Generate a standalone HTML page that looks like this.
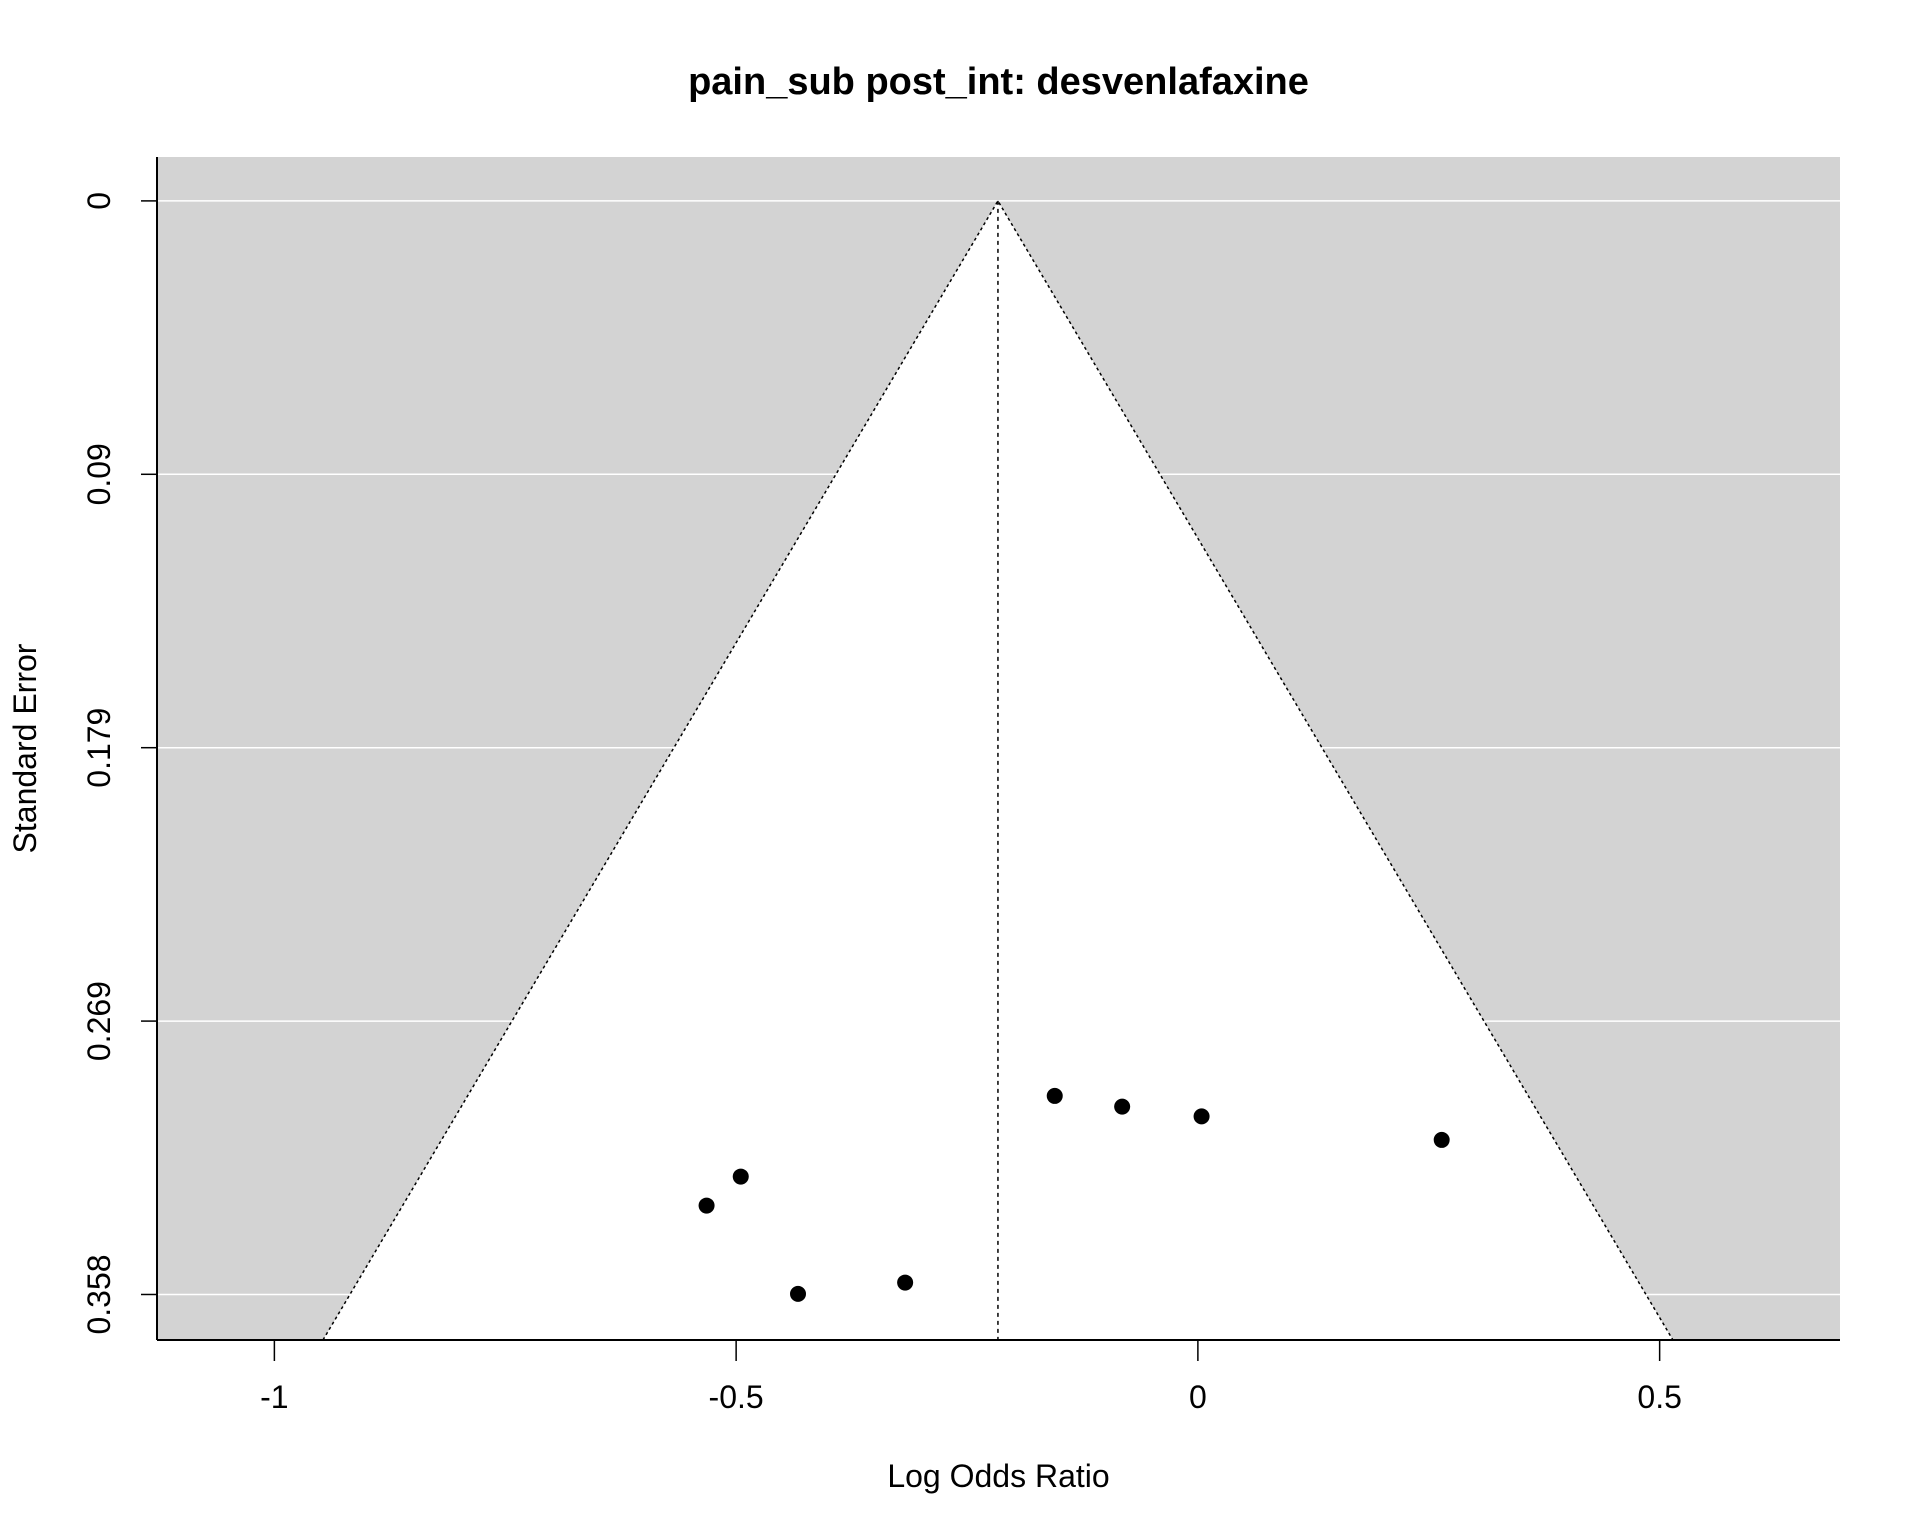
<!DOCTYPE html>
<html><head><meta charset="utf-8"><style>
html,body{margin:0;padding:0;background:#fff;}
svg{display:block;font-family:"Liberation Sans",Arial,sans-serif;}
</style></head><body>
<svg id="chart" width="1920" height="1536" xmlns="http://www.w3.org/2000/svg"></svg>
<script>
const studyLogOR = [-0.155, -0.082, 0.004, 0.264, -0.495, -0.532, -0.433, -0.317];
const studySE = [0.293, 0.2965, 0.2997, 0.3074, 0.3194, 0.3289, 0.3578, 0.3541];
const pooledEstimate = -0.2165;
const xTicks = [-1, -0.5, 0, 0.5];
const xTickLabels = ["-1", "-0.5", "0", "0.5"];
const yTicks = [0, 0.0895, 0.179, 0.2685, 0.358];
const yTickLabels = ["0", "0.09", "0.179", "0.269", "0.358"];

const L=157,R=1840,T=157,B=1340;
const xMin=-1.1271,xMax=0.6953,yMin=-0.01437,yMax=0.3729;
const sx=v=>L+(v-xMin)/(xMax-xMin)*(R-L);
const sy=v=>T+(v-yMin)/(yMax-yMin)*(B-T);
const svg=document.getElementById('chart');
const NS='http://www.w3.org/2000/svg';
function mk(tag,attrs,parent){const e=document.createElementNS(NS,tag);for(const k in attrs)e.setAttribute(k,attrs[k]);(parent||svg).appendChild(e);return e;}

let e;
e=mk('text',{x:(L+R)/2,y:94,'text-anchor':'middle','font-size':38,'font-weight':'bold'});e.textContent='pain_sub post_int: desvenlafaxine';



e=mk('rect',{x:L,y:T,width:R-L,height:B-T,fill:'#d3d3d3'});



yTicks.forEach((t,i)=>{
  e=mk('line',{x1:L,x2:R,y1:sy(t),y2:sy(t),stroke:'#fff','stroke-width':1.5});
  
  
});

const yb=yMax;
const pts=[[sx(pooledEstimate-1.96*yb),sy(yb)],[sx(pooledEstimate),sy(0)],[sx(pooledEstimate+1.96*yb),sy(yb)]];
e=mk('polygon',{points:pts.map(p=>p.join(',')).join(' '),fill:'#fff'});


e=mk('polyline',{points:pts.map(p=>p.join(',')).join(' '),fill:'none',stroke:'#000','stroke-width':1.5,'stroke-dasharray':'3,3'});


e=mk('line',{x1:sx(pooledEstimate),x2:sx(pooledEstimate),y1:sy(0),y2:B,stroke:'#000','stroke-width':1.5,'stroke-dasharray':'4,4'});



studyLogOR.forEach((v,i)=>{
  e=mk('circle',{cx:sx(v),cy:sy(studySE[i]),r:8,fill:'#000'});
  
  
});

e=mk('line',{x1:L,x2:L,y1:T,y2:B,stroke:'#000','stroke-width':2});


e=mk('line',{x1:L,x2:R,y1:B,y2:B,stroke:'#000','stroke-width':2});



xTicks.forEach((t,i)=>{
  e=mk('line',{x1:sx(t),x2:sx(t),y1:B,y2:B+21,stroke:'#000','stroke-width':1.5});
  
  
  e=mk('text',{x:sx(t),y:1408,'text-anchor':'middle','font-size':32});e.textContent=xTickLabels[i];
  
  
});
yTicks.forEach((t,i)=>{
  e=mk('line',{x1:L-16,x2:L,y1:sy(t),y2:sy(t),stroke:'#000','stroke-width':1.5});
  
  
  e=mk('text',{x:0,y:0,'text-anchor':'middle','font-size':32,transform:`translate(110,${sy(t)}) rotate(-90)`});e.textContent=yTickLabels[i];
  
  
});

e=mk('text',{x:(L+R)/2,y:1487,'text-anchor':'middle','font-size':32});e.textContent='Log Odds Ratio';


e=mk('text',{x:0,y:0,'text-anchor':'middle','font-size':32,transform:`translate(36,${(T+B)/2}) rotate(-90)`});e.textContent='Standard Error';


</script>
</body></html>
